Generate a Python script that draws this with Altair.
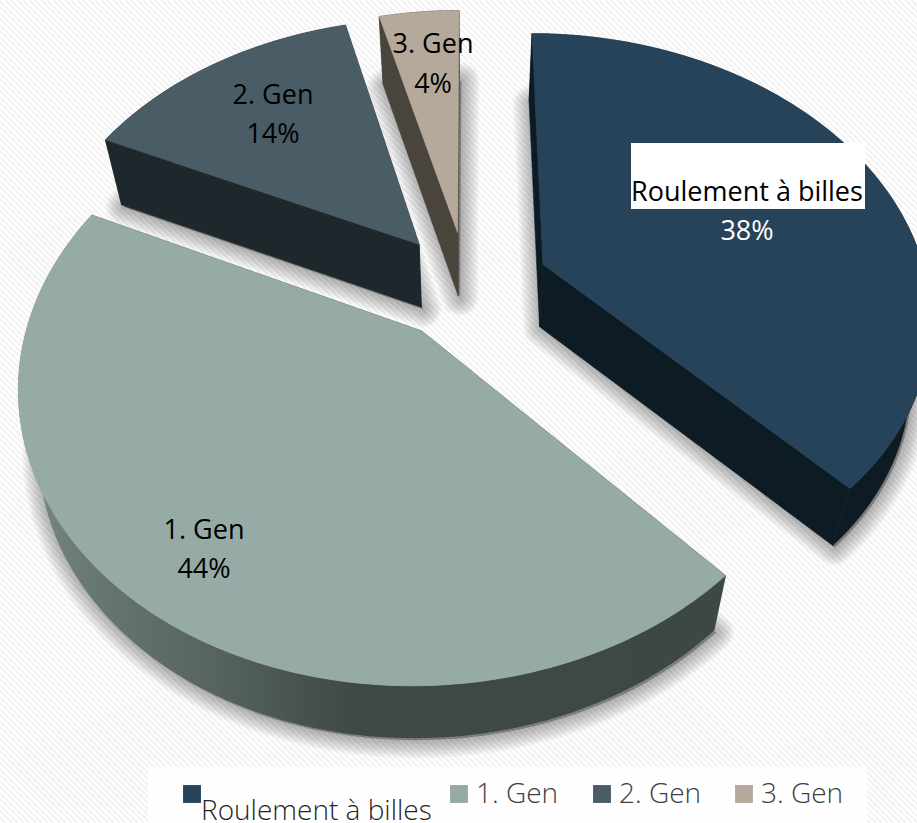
import math
import altair as alt
import pandas as pd

# Chart content
categories = ["Roulement à billes", "1. Gen", "2. Gen", "3. Gen"]
shares = [38, 44, 14, 4]
explode = [0.215, 0.195, 0.2, 0.2]
top_colors = ["#27435a", "#96aba6", "#4a5c66", "#b5a99b"]
wall_colors = ["#0d1c24", "#3d4745", "#1e272b", "#4a453c"]
label_colors = ["#000000", "#000000", "#000000", "#000000"]
percent_colors = ["#ffffff", "#000000", "#000000", "#000000"]
legend_colors = ["#262626", "#404040", "#404040", "#404040"]

# Canvas and perspective of the exploded disc
W, H = 917, 823
CX, CY = 467, 286
RX, RY = 385, 277
PERSPECTIVE = 0.171
WALL_SHRINK = 0.955

x_scale = alt.Scale(domain=[0, W], range=[0, W], nice=False, zero=False)
y_scale = alt.Scale(domain=[0, H], range=[0, H], nice=False, zero=False)
X = lambda f: alt.X(f, type="quantitative", scale=x_scale, axis=None)
Y = lambda f: alt.Y(f, type="quantitative", scale=y_scale, axis=None)


def project(px, py):
    w = 1 + PERSPECTIVE * py
    return CX + RX * px / w, CY - RY * py / w


def lower(p):
    return CX + (p[0] - CX) * WALL_SHRINK, p[1] + 68.5 - 0.0236 * p[1]


def shape(points, **mark):
    df = pd.DataFrame(points, columns=["x", "y"])
    df["i"] = range(len(df))
    return alt.Chart(df).mark_line(interpolate="linear-closed", **mark).encode(
        x=X("x"), y=Y("y"), order="i:Q"
    )


# Diagonal hatching of the page
stripe_starts = list(range(-H, W, 6))
stripes = pd.DataFrame({"x": stripe_starts, "y": 0})
stripes["x2"] = stripes["x"] + H
stripes["y2"] = H
background = alt.Chart(stripes).mark_rule(color="#f2f2f2", strokeWidth=2.2).encode(
    x=X("x"), y=Y("y"), x2="x2:Q", y2="y2:Q"
)

shadow_layers, body_layers = [], []
start = 0.0
total = sum(shares)
for share, gap, top, wall in zip(shares, explode, top_colors, wall_colors):
    sweep = share / total * 2 * math.pi
    mid = start + sweep / 2
    ox, oy = gap * math.sin(mid), gap * math.cos(mid)
    steps = max(12, int(share * 3))
    arc = [
        project(
            ox + math.sin(start + sweep * n / steps),
            oy + math.cos(start + sweep * n / steps),
        )
        for n in range(steps + 1)
    ]
    apex = project(ox, oy)
    top_face = [apex] + arc
    low_arc = [lower(p) for p in arc]
    low_apex = lower(apex)

    # Soft drop shadow built from stacked translucent outlines
    offset = [(p[0] + 2, p[1] + 2) for p in [low_apex] + low_arc]
    for width in range(4, 40, 4):
        shadow_layers.append(
            shape(offset, fill="#000000", fillOpacity=0.036, stroke="#000000",
                  strokeOpacity=0.036, strokeWidth=width, strokeJoin="round")
        )

    # Walls, then the top face over them
    band_style = {"fill": wall, "stroke": wall, "strokeWidth": 0.5}
    if share == 44:
        band_style = {
            "strokeWidth": 0,
            "fill": alt.Gradient(
                gradient="linear", x1=0, x2=1, y1=0, y2=0,
                stops=[
                    alt.GradientStop(color="#7b8c86", offset=0.0),
                    alt.GradientStop(color="#687873", offset=0.1),
                    alt.GradientStop(color="#56635f", offset=0.28),
                    alt.GradientStop(color="#3f4947", offset=0.47),
                    alt.GradientStop(color="#3d4745", offset=1.0),
                ],
            ),
        }
    for quad in (
        [apex, arc[0], low_arc[0], low_apex],
        [apex, arc[-1], low_arc[-1], low_apex],
    ):
        body_layers.append(shape(quad, fill=wall, stroke=wall, strokeWidth=0.5))
    body_layers.append(shape(arc + low_arc[::-1], **band_style))
    body_layers.append(shape(top_face, fill=top, stroke=top, strokeWidth=0.5))
    start += sweep

# Data labels: name on the first line, share on the second
label_x = [747, 204, 273, 433]
name_y = [193, 531, 96, 45]
percent_y = [232, 570, 135, 85]
labels = pd.DataFrame({
    "x": label_x, "name_y": name_y, "pct_y": percent_y,
    "name": categories, "pct": [f"{s}%" for s in shares],
    "name_color": label_colors, "pct_color": percent_colors,
})
FONT = "Open Sans"
name_box = alt.Chart(pd.DataFrame({"x": [631], "x2": [865], "y": [143], "y2": [209]})).mark_rect(
    color="#ffffff"
).encode(x=X("x"), x2="x2:Q", y=Y("y"), y2="y2:Q")
name_text = alt.Chart(labels).mark_text(font=FONT, fontSize=27, baseline="middle").encode(
    x=X("x"), y=Y("name_y"), text="name:N", color=alt.Color("name_color:N", scale=None)
)
pct_text = alt.Chart(labels).mark_text(font=FONT, fontSize=27, baseline="middle").encode(
    x=X("x"), y=Y("pct_y"), text="pct:N", color=alt.Color("pct_color:N", scale=None)
)

# Hand-placed legend band along the bottom
legend_band = alt.Chart(pd.DataFrame({"x": [148], "x2": [867], "y": [767], "y2": [H]})).mark_rect(
    color="#ffffff", opacity=0.85
).encode(x=X("x"), x2="x2:Q", y=Y("y"), y2="y2:Q")
swatch_x = [192, 459, 602, 744]
legend_text_x = [201, 476, 619, 761]
legend_text_y = [820, 803, 803, 803]
legend = pd.DataFrame({
    "sx": swatch_x, "sy": 794, "tx": legend_text_x, "ty": legend_text_y,
    "name": categories, "color": top_colors, "text_color": legend_colors,
})
swatches = alt.Chart(legend).mark_square(size=320, opacity=1).encode(
    x=X("sx"), y=Y("sy"), color=alt.Color("color:N", scale=None)
)
legend_text = alt.Chart(legend).mark_text(
    font=FONT, fontSize=28, fontWeight=300, align="left", baseline="alphabetic"
).encode(
    x=X("tx"), y=Y("ty"), text="name:N",
    color=alt.Color("text_color:N", scale=None),
)

chart = alt.layer(
    background, *shadow_layers, *body_layers, name_box, name_text, pct_text,
    legend_band, swatches, legend_text,
).properties(
    width=W, height=H, padding=0, autosize=alt.AutoSizeParams(type="none"),
    background="#ffffff",
).configure_view(stroke=None)

chart.save("out.html", embed_options={"renderer": "svg", "actions": False})
